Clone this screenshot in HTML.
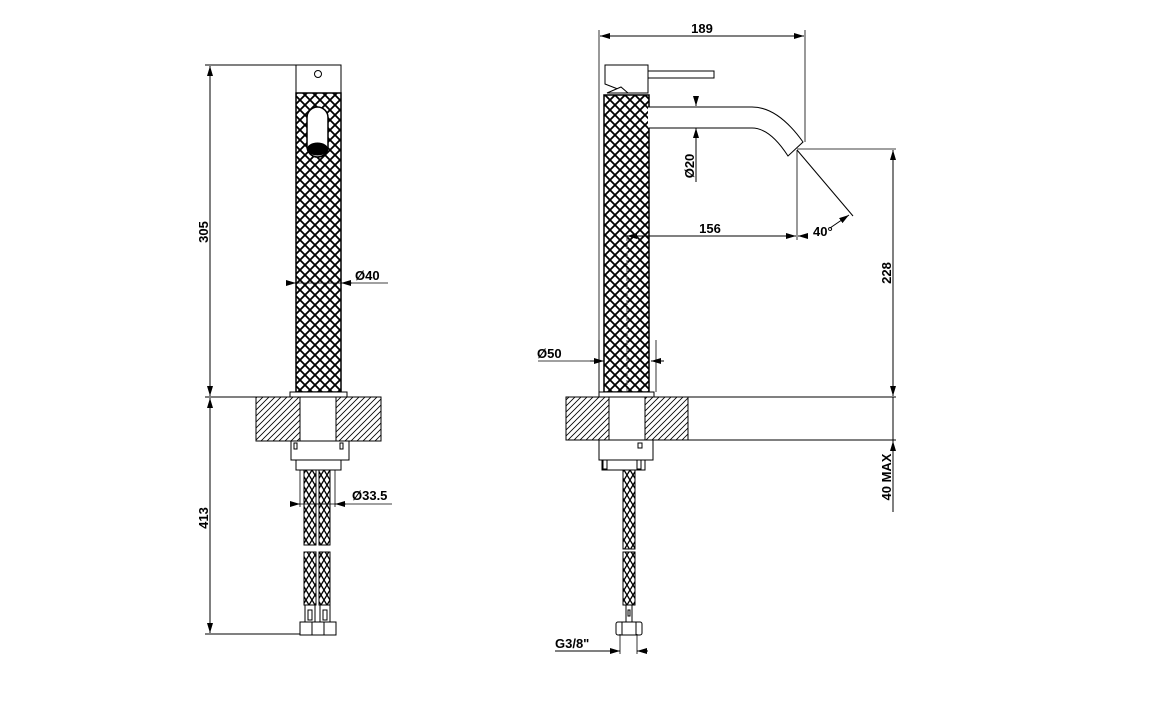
<!DOCTYPE html>
<html><head><meta charset="utf-8"><style>
html,body{margin:0;padding:0;background:#fff;}
svg{display:block;}
text{font-family:"Liberation Sans",sans-serif;font-weight:bold;font-size:13px;fill:#000;}
</style></head><body>
<svg width="1174" height="719" viewBox="0 0 1174 719" xmlns="http://www.w3.org/2000/svg">
<defs>
<pattern id="kn" width="10" height="10" patternUnits="userSpaceOnUse">
<rect width="10" height="10" fill="#fff"/>
<path d="M-2,2 L2,-2 M0,10 L10,0 M8,12 L12,8 M-2,8 L2,12 M0,0 L10,10 M8,-2 L12,2" stroke="#000" stroke-width="1.8"/>
</pattern>
<pattern id="kh" width="6" height="10" patternUnits="userSpaceOnUse">
<rect width="6" height="10" fill="#fff"/>
<path d="M0,0 L6,10 M6,0 L0,10" stroke="#000" stroke-width="1.3"/>
</pattern>
<pattern id="ht" width="6" height="6" patternUnits="userSpaceOnUse">
<rect width="6" height="6" fill="#fff"/>
<path d="M-1,7 L7,-1 M-1,1 L1,-1 M5,7 L7,5" stroke="#000" stroke-width="0.8"/>
</pattern>
<marker id="a" viewBox="0 0 10 6" refX="10" refY="3" markerWidth="10" markerHeight="6" orient="auto-start-reverse" markerUnits="userSpaceOnUse"><path d="M0,0 L10,3 L0,6z" fill="#000"/></marker>
</defs>
<g stroke="#000" fill="none" stroke-width="1">
<!-- LEFT VIEW -->
<rect x="296" y="65" width="45" height="28" fill="#fff"/>
<circle cx="318" cy="74" r="3.5"/>
<rect x="296" y="93" width="45" height="299" fill="url(#kn)" stroke-width="1.5"/>
<rect x="307" y="107" width="21" height="50" rx="10.5" fill="#fff" stroke-width="1.5"/>
<ellipse cx="317.5" cy="149" rx="10" ry="6" fill="#000"/>
<rect x="290" y="392" width="57" height="5" fill="#fff"/>
<rect x="256" y="397" width="44" height="44" fill="url(#ht)"/>
<rect x="336" y="397" width="45" height="44" fill="url(#ht)"/>
<rect x="300" y="397" width="36" height="44" fill="#fff"/>
<rect x="291" y="441" width="58" height="19" fill="#fff"/>
<rect x="294" y="443" width="3" height="6"/><rect x="340" y="443" width="3" height="6"/>
<rect x="296" y="460" width="45" height="10" fill="#fff"/>
<rect x="304" y="470" width="12" height="75" fill="url(#kh)"/>
<rect x="319" y="470" width="11" height="75" fill="url(#kh)"/>
<rect x="304" y="552" width="12" height="53" fill="url(#kh)"/>
<rect x="319" y="552" width="11" height="53" fill="url(#kh)"/>
<rect x="305" y="605" width="10" height="17"/><rect x="320" y="605" width="10" height="17"/>
<rect x="308" y="610" width="4" height="10"/><rect x="323" y="610" width="4" height="10"/>
<rect x="300" y="622" width="12" height="13" fill="#fff"/><rect x="312" y="622" width="12" height="13" fill="#fff"/><rect x="324" y="622" width="12" height="13" fill="#fff"/>
<!-- left dims -->
<line x1="205" y1="65" x2="296" y2="65"/>
<line x1="205" y1="397" x2="256" y2="397"/>
<line x1="205" y1="634" x2="300" y2="634"/>
<line x1="210" y1="66" x2="210" y2="396" marker-start="url(#a)" marker-end="url(#a)"/>
<line x1="210" y1="398" x2="210" y2="633" marker-start="url(#a)" marker-end="url(#a)"/>
<line x1="286" y1="283" x2="296" y2="283" marker-end="url(#a)"/>
<line x1="352" y1="283" x2="341" y2="283" marker-end="url(#a)"/>
<line x1="296" y1="283" x2="388" y2="283" stroke-width="0.8"/>
<line x1="300" y1="470" x2="300" y2="507" stroke-width="0.8"/>
<line x1="335" y1="470" x2="335" y2="507" stroke-width="0.8"/>
<line x1="290" y1="504" x2="300" y2="504" marker-end="url(#a)"/>
<line x1="346" y1="504" x2="335" y2="504" marker-end="url(#a)"/>
<line x1="300" y1="504" x2="392" y2="504" stroke-width="0.8"/>
<!-- RIGHT VIEW -->
<path d="M605,65 L648,65 L648,93 L628,93 L605,84 Z" fill="#fff"/>
<path d="M607,93 L628,93 L621,87 Z" fill="#fff"/>
<rect x="648" y="71" width="66" height="7" fill="#fff"/>
<rect x="604" y="95" width="45" height="297" fill="url(#kn)" stroke-width="1.5"/>
<path d="M648,107 L752,107 Q778,107 803,142 L788,156 Q770,128 752,128 L648,128" fill="#fff"/>
<line x1="627" y1="236" x2="627" y2="392" stroke-dasharray="5,3" stroke="#555"/>
<rect x="599" y="392" width="55" height="5" fill="#fff"/>
<rect x="566" y="397" width="43" height="43" fill="url(#ht)"/>
<rect x="645" y="397" width="43" height="43" fill="url(#ht)"/>
<rect x="609" y="397" width="36" height="43" fill="#fff"/>
<line x1="688" y1="397" x2="896" y2="397"/>
<line x1="688" y1="440" x2="896" y2="440"/>
<rect x="599" y="440" width="54" height="20" fill="#fff"/>
<rect x="638" y="443" width="4" height="5"/>
<rect x="602" y="460" width="43" height="10" fill="#fff"/>
<rect x="603" y="460" width="4" height="9"/><rect x="637" y="460" width="4" height="9"/>
<rect x="623" y="470" width="12" height="79" fill="url(#kh)"/>
<rect x="623" y="552" width="12" height="53" fill="url(#kh)"/>
<rect x="626" y="605" width="6" height="17"/>
<rect x="628" y="610" width="2" height="6"/>
<rect x="616" y="622" width="26" height="13" rx="2" fill="#fff"/>
<line x1="622" y1="622" x2="622" y2="635"/><line x1="636" y1="622" x2="636" y2="635"/>
<!-- right dims -->
<line x1="599" y1="30" x2="599" y2="392" stroke-width="0.8"/>
<line x1="805" y1="30" x2="805" y2="142" stroke-width="0.8"/>
<line x1="600" y1="36" x2="804" y2="36" marker-start="url(#a)" marker-end="url(#a)"/>
<line x1="696" y1="98" x2="696" y2="106" marker-end="url(#a)"/>
<line x1="696" y1="182" x2="696" y2="128" marker-end="url(#a)"/>
<line x1="797" y1="150" x2="797" y2="240" stroke-width="0.8"/>
<line x1="797" y1="149" x2="896" y2="149" stroke-width="0.8"/>
<line x1="797" y1="150" x2="853" y2="216"/>
<line x1="830" y1="228" x2="849" y2="215" marker-end="url(#a)"/>
<line x1="627" y1="236" x2="796" y2="236" marker-start="url(#a)" marker-end="url(#a)"/>
<line x1="808" y1="236" x2="798" y2="236" marker-end="url(#a)"/>
<line x1="893" y1="150" x2="893" y2="396" marker-start="url(#a)" marker-end="url(#a)"/>
<line x1="893" y1="512" x2="893" y2="441" marker-end="url(#a)"/>
<line x1="893" y1="397" x2="893" y2="441"/>
<line x1="599" y1="340" x2="599" y2="392" stroke-width="0.8"/>
<line x1="656" y1="340" x2="656" y2="392" stroke-width="0.8"/>
<line x1="538" y1="361" x2="599" y2="361" stroke-width="0.8"/>
<line x1="590" y1="361" x2="604" y2="361" marker-end="url(#a)"/>
<line x1="664" y1="361" x2="651" y2="361" marker-end="url(#a)"/>
<line x1="620" y1="634" x2="620" y2="654" stroke-width="0.8"/>
<line x1="637" y1="634" x2="637" y2="654" stroke-width="0.8"/>
<line x1="555" y1="651" x2="620" y2="651" marker-end="url(#a)"/>
<line x1="648" y1="651" x2="637" y2="651" marker-end="url(#a)"/>
</g>
<text transform="translate(208,232) rotate(-90)" text-anchor="middle">305</text>
<text transform="translate(208,518) rotate(-90)" text-anchor="middle">413</text>
<text x="355" y="280">Ø40</text>
<text x="352" y="500">Ø33.5</text>
<text x="702" y="33" text-anchor="middle">189</text>
<text transform="translate(694,166) rotate(-90)" text-anchor="middle">Ø20</text>
<text x="710" y="233" text-anchor="middle">156</text>
<text x="813" y="236">40°</text>
<text transform="translate(891,273) rotate(-90)" text-anchor="middle">228</text>
<text transform="translate(891,477) rotate(-90)" text-anchor="middle">40  MAX</text>
<text x="537" y="358">Ø50</text>
<text x="555" y="648">G3/8"</text>
</svg>
</body></html>
